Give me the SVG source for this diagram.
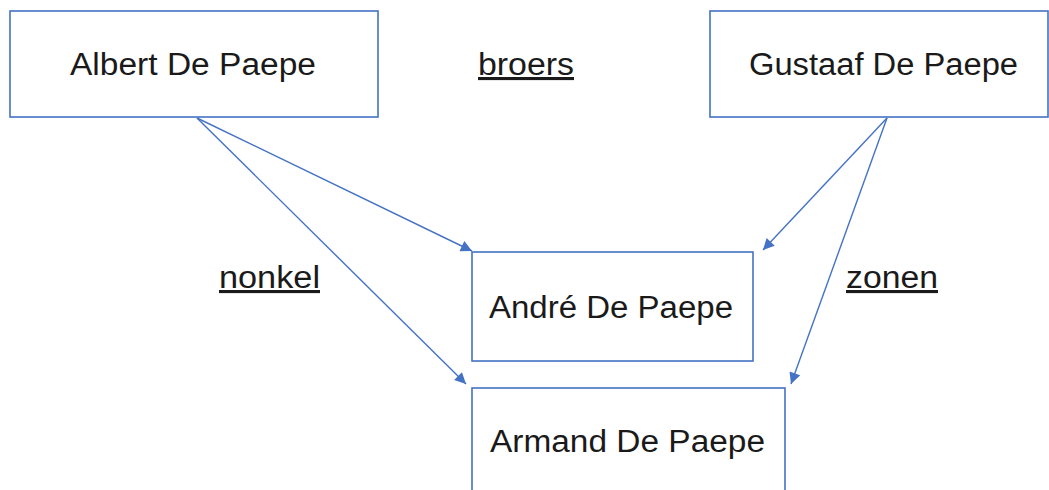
<svg xmlns="http://www.w3.org/2000/svg" width="1049" height="490" viewBox="0 0 1049 490">
  <style>
    .box { fill: #ffffff; stroke: #4472C4; stroke-width: 1.6; }
    .lbl { font-family: "Liberation Sans", Arial, sans-serif; font-size: 31px; fill: #1a1a1a; }
    .ul { text-decoration: underline; }
    .edge { stroke: #4472C4; stroke-width: 1.4; fill: none; marker-end: url(#arrow); }
  </style>
  <defs>
    <marker id="arrow" viewBox="0 0 10 10" refX="10" refY="5" markerWidth="9" markerHeight="8" markerUnits="strokeWidth" orient="auto">
      <path d="M0,0 L10,5 L0,10 Z" fill="#4472C4"/>
    </marker>
  </defs>
  <rect width="1049" height="490" fill="#ffffff"/>
  <g id="connectors">
    <line class="edge" x1="197" y1="118" x2="472" y2="251"/>
    <line class="edge" x1="197" y1="118" x2="466" y2="384"/>
    <line class="edge" x1="887" y1="118" x2="763" y2="250"/>
    <line class="edge" x1="887" y1="118" x2="791" y2="384"/>
  </g>
  <g id="albert">
    <rect class="box" x="10" y="11" width="368" height="106"/>
    <text class="lbl" x="70" y="75" textLength="246" lengthAdjust="spacingAndGlyphs">Albert De Paepe</text>
  </g>
  <g id="gustaaf">
    <rect class="box" x="710" y="11" width="338" height="106"/>
    <text class="lbl" x="749" y="75" textLength="269" lengthAdjust="spacingAndGlyphs">Gustaaf De Paepe</text>
  </g>
  <g id="andre">
    <rect class="box" x="472" y="252" width="281" height="109"/>
    <text class="lbl" x="489" y="318" textLength="244" lengthAdjust="spacingAndGlyphs">André De Paepe</text>
  </g>
  <g id="armand">
    <rect class="box" x="472" y="388" width="313" height="110"/>
    <text class="lbl" x="490" y="452" textLength="275" lengthAdjust="spacingAndGlyphs">Armand De Paepe</text>
  </g>
  <g id="labels">
    <text class="lbl ul" x="478" y="75" textLength="96" lengthAdjust="spacingAndGlyphs">broers</text>
    <text class="lbl ul" x="219" y="288" textLength="101" lengthAdjust="spacingAndGlyphs">nonkel</text>
    <text class="lbl ul" x="846" y="288" textLength="92" lengthAdjust="spacingAndGlyphs">zonen</text>
  </g>
</svg>
